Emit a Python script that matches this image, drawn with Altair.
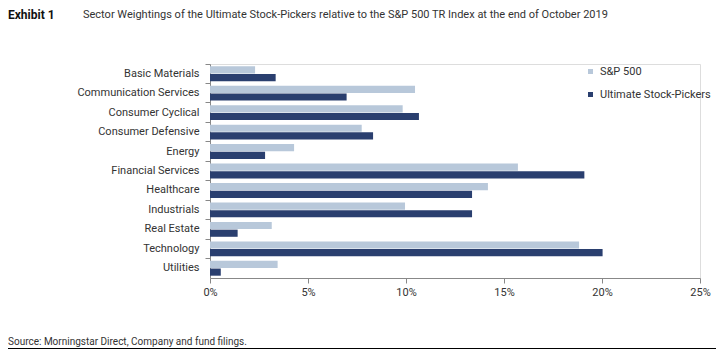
import altair as alt
import pandas as pd

sectors = ["Basic Materials", "Communication Services", "Consumer Cyclical",
           "Consumer Defensive", "Energy", "Financial Services", "Healthcare",
           "Industrials", "Real Estate", "Technology", "Utilities"]
series_names = ["S&P 500", "Ultimate Stock-Pickers"]
sp500 = [2.3, 10.46, 9.83, 7.74, 4.29, 15.71, 14.18, 9.95, 3.15, 18.83, 3.45]
usp = [3.35, 6.97, 10.66, 8.32, 2.81, 19.1, 13.37, 13.37, 1.41, 20.03, 0.55]
x_ticks = [0, 5, 10, 15, 20, 25]
colors = ["#b8c8da", "#2a3f6f"]

rows = []
for s, a, b in zip(sectors, sp500, usp):
    rows.append({"sector": s, "series": series_names[0], "value": a})
    rows.append({"sector": s, "series": series_names[1], "value": b})
df = pd.DataFrame(rows)

FONT = "Liberation Sans Narrow, Roboto, sans-serif"

bars = alt.Chart(df).mark_bar().encode(
    y=alt.Y("sector:N", sort=sectors, title=None,
            scale=alt.Scale(paddingInner=0, paddingOuter=0),
            axis=alt.Axis(bandPosition=0, domainColor="#888", tickColor="#888",
                          tickSize=5, labelPadding=6, labelFontSize=11,
                          labelColor="#333", labelFont=FONT, grid=False)),
    yOffset=alt.YOffset("series:N", sort=series_names,
                        scale=alt.Scale(paddingInner=0.065, paddingOuter=0.3)),
    x=alt.X("value:Q", title=None,
            scale=alt.Scale(domain=[0, 25], nice=False),
            axis=alt.Axis(values=x_ticks, labelExpr="datum.value + '%'",
                          domainColor="#888", tickColor="#888", tickSize=5,
                          labelPadding=3, labelFontSize=11, labelColor="#333",
                          labelFont=FONT, grid=False, labelFlush=False)),
    color=alt.Color("series:N", sort=series_names,
                    scale=alt.Scale(domain=series_names, range=colors),
                    legend=alt.Legend(title=None, orient="none", legendX=375,
                                      legendY=2, symbolType="square",
                                      symbolSize=25, symbolStrokeWidth=0,
                                      rowPadding=11, labelFontSize=11,
                                      labelOffset=4,
                                      labelColor="#333", labelFont=FONT)),
)

header = pd.DataFrame({"t": ["Exhibit 1"]})
exhibit = alt.Chart(header).mark_text(
    align="left", baseline="middle", fontSize=12, fontWeight="bold",
    font=FONT, color="#111").encode(
    text="t:N", x=alt.value(-202), y=alt.value(-49))

title_df = pd.DataFrame({"t": ["Sector Weightings of the Ultimate Stock-Pickers relative to the S&P 500 TR Index at the end of October 2019"]})
title = alt.Chart(title_df).mark_text(
    align="left", baseline="middle", fontSize=11, font=FONT,
    color="#333").encode(text="t:N", x=alt.value(-127), y=alt.value(-49))

src_df = pd.DataFrame({"t": ["Source: Morningstar Direct, Company and fund filings."]})
source = alt.Chart(src_df).mark_text(
    align="left", baseline="middle", fontSize=10, font=FONT,
    color="#333").encode(text="t:N", x=alt.value(-202), y=alt.value(278))

line = alt.Chart(src_df).mark_rule(color="#000", strokeWidth=1).encode(
    x=alt.value(-202), x2=alt.value(506), y=alt.value(284.5))

chart = alt.layer(bars, exhibit, title, source, line).properties(
    width=490, height=214,
    autosize=alt.AutoSizeParams(type="none"),
    padding={"left": 202, "top": 56, "right": 16, "bottom": 71},
).configure_view(stroke=None).configure(background="white")

chart.save("out.html", embed_options={"renderer": "svg", "actions": False})
